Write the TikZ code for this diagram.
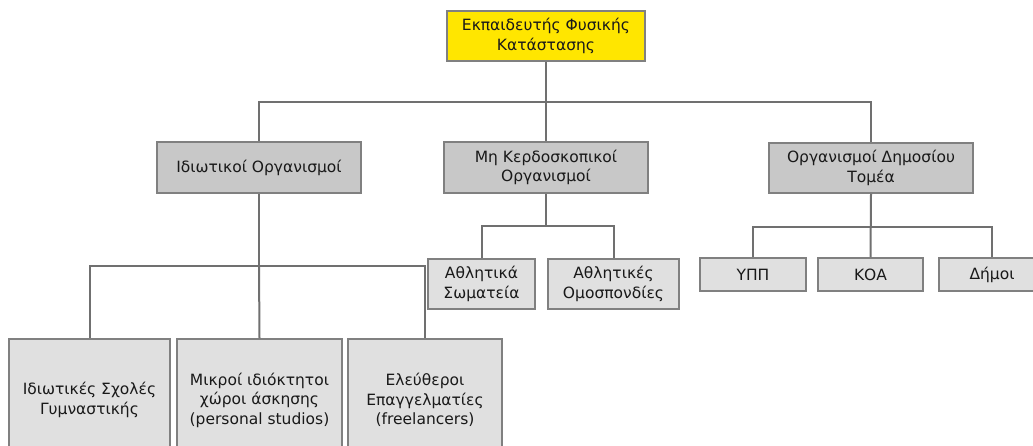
\documentclass[tikz,border=0pt]{standalone}
\usepackage{fontspec}
\setmainfont{DejaVu Sans}
\begin{document}
\begin{tikzpicture}[x=1pt,y=-1pt,
  box/.style={draw=boxborder,line width=1.5pt,align=center,inner sep=0pt,
    font=\fontsize{15.5}{19.5}\selectfont,text=black!90},
  topbox/.style={box,fill=topyellow},
  midbox/.style={box,fill=midgray},
  leafbox/.style={box,fill=leafgray},
  conn/.style={draw=linegray,line width=2pt}]
\definecolor{topyellow}{HTML}{FFE600}
\definecolor{midgray}{HTML}{C8C8C8}
\definecolor{leafgray}{HTML}{E0E0E0}
\definecolor{boxborder}{HTML}{808080}
\definecolor{linegray}{HTML}{707070}
\useasboundingbox (0,0) rectangle (1033,446);
\clip (0,0) rectangle (1033,446);
% nodes
\node[topbox,minimum width=198pt,minimum height=50pt] (top) at (546,36) {Εκπαιδευτής Φυσικής\\Κατάστασης};
\node[midbox,minimum width=204pt,minimum height=51pt] (priv) at (259,167.5) {Ιδιωτικοί Οργανισμοί};
\node[midbox,minimum width=204pt,minimum height=51pt] (np) at (546,167.5) {Μη Κερδοσκοπικοί\\Οργανισμοί};
\node[midbox,minimum width=204pt,minimum height=50pt] (pub) at (871,168) {Οργανισμοί Δημοσίου\\Τομέα};
\node[leafbox,minimum width=107pt,minimum height=50pt] (aso) at (481.5,284) {Αθλητικά\\Σωματεία};
\node[leafbox,minimum width=131pt,minimum height=50pt] (aom) at (613.5,284) {Αθλητικές\\Ομοσπονδίες};
\node[leafbox,minimum width=106pt,minimum height=33pt] (ypp) at (753,274.5) {ΥΠΠ};
\node[leafbox,minimum width=105pt,minimum height=33pt] (koa) at (870.5,274.5) {ΚΟΑ};
\node[leafbox,minimum width=106pt,minimum height=33pt] (dim) at (992,274.5) {Δήμοι};
\node[leafbox,minimum width=161pt,minimum height=122pt] (isg) at (89.5,400) {Ιδιωτικές Σχολές\\Γυμναστικής};
\node[leafbox,minimum width=165pt,minimum height=122pt] (mix) at (259.5,400) {Μικροί ιδιόκτητοι\\χώροι άσκησης\\(personal studios)};
\node[leafbox,minimum width=154pt,minimum height=122pt] (ele) at (425,400) {Ελεύθεροι\\Επαγγελματίες\\(freelancers)};
% connectors
\coordinate (b1) at (546,102);
\coordinate (b2) at (259,266);
\coordinate (b3) at (546,226);
\coordinate (b4) at (871,227);
\draw[conn] (top.south) -- (np.north);
\draw[conn] (b1) -| (priv.north);
\draw[conn] (b1) -| (pub.north);
\draw[conn] (priv.south) -- (b2);
\draw[conn] (b2) -| (isg.north);
\draw[conn] (b2) -- (mix.north);
\draw[conn] (b2) -| (ele.north);
\draw[conn] (np.south) -- (b3);
\draw[conn] (b3) -| (aso.north);
\draw[conn] (b3) -| (aom.north);
\draw[conn] (pub.south) -- (koa.north);
\draw[conn] (b4) -| (ypp.north);
\draw[conn] (b4) -| (dim.north);
\end{tikzpicture}
\end{document}
